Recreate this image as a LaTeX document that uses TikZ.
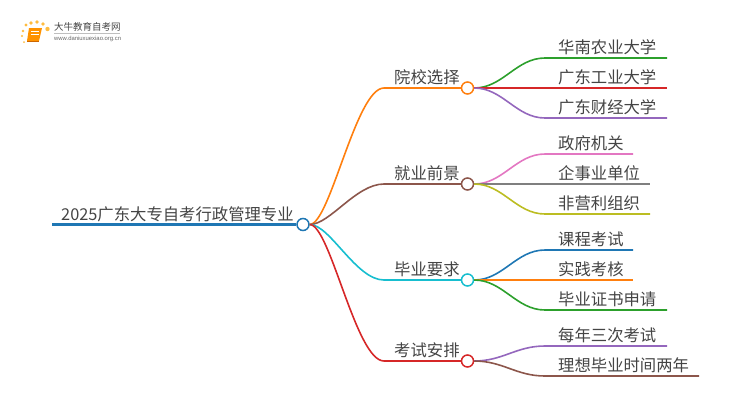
\documentclass[tikz,border=0pt]{standalone}
\usepackage{fontspec}
\setmainfont{Noto Sans CJK SC}
\setsansfont{Liberation Sans}
\definecolor{cblue}{HTML}{1F77B4}
\definecolor{corange}{HTML}{FF7F0E}
\definecolor{cgreen}{HTML}{2CA02C}
\definecolor{cred}{HTML}{D62728}
\definecolor{cpurple}{HTML}{9467BD}
\definecolor{cbrown}{HTML}{8C564B}
\definecolor{cpink}{HTML}{E377C2}
\definecolor{cgrey}{HTML}{7F7F7F}
\definecolor{colive}{HTML}{BCBD22}
\definecolor{ccyan}{HTML}{17BECF}
\definecolor{ctext}{HTML}{444444}
\tikzset{
    knob/.style={circle,draw=#1,fill=white,line width=1.5pt,minimum size=12pt,inner sep=0pt},
    lab/.style={anchor=base west,inner sep=0pt,text=ctext,font=\fontsize{16.35}{18}\selectfont},
    wire/.style={line width=1.6pt,color=#1},
}
\begin{document}
\begin{tikzpicture}[x=1pt,y=-1pt]
    \useasboundingbox (0,0) rectangle (750,410);
    % logo
    \foreach \px/\py/\pr in {26/25/1.6,31/23/1.8,37/22/1.9,43/24/1.9,47.5/29/2.2,23/31/1.4,22/36/1.2,24/42/1}
        \fill[orange!70!yellow,opacity=.75] (\px,\py) circle (\pr);
    \fill[orange!85!yellow] (29,28) -- (42,28) -- (39,41) -- (27,41) -- cycle;
    \draw[white,line width=.6pt] (31,31) -- (39,31) (30.5,34) -- (38.5,34);
    \draw[orange!80!black,line width=.8pt] (27,41.5) -- (39,41.5);
    \node[anchor=west,inner sep=0pt,text=ctext,font=\fontsize{9.5}{10}\selectfont] (logotext) at (54,27) {大牛教育自考网};
    \draw[black!25,line width=.5pt] (54,33) -- (120,33);
    \node[anchor=west,inner sep=0pt,text=black!60,font=\sffamily\fontsize{5.9}{6}\selectfont] (logourl) at (54,38.7) {www.daniuxuexiao.org.cn};
    % root
    \coordinate (rootend) at (52,224.5);
    \node[knob=cblue] (rootknob) at (303,224.5) {};
    \draw[line width=2.2pt,color=cblue] (rootend) -- (rootknob.west);
    \node[lab] (rootlab) at (61,220) {2025广东大专自考行政管理专业};
    % branches
    \foreach \nm/\by/\col/\txt in {a/88/corange/院校选择,b/184/cbrown/就业前景,c/280/ccyan/毕业要求,d/361/cred/考试安排}{
        \node[knob=\col] (\nm knob) at (467.5,\by) {};
        \coordinate (\nm knee) at (384,\by);
        \draw[wire=\col] (rootknob.east) .. controls (330,224.5) and (356,\by) .. (\nm knee) -- (\nm knob.west);
        \node[lab] (\nm lab) at (394,\by-4.5) {\txt};
    }
    % leaves
    \foreach \nm/\by/\ly/\lx/\col/\txt in {
        a/88/58/667/cgreen/华南农业大学,a/88/88/667/cred/广东工业大学,a/88/118/667/cpurple/广东财经大学,
        b/184/154/633/cpink/政府机关,b/184/184/650/cgrey/企事业单位,b/184/214/650/colive/非营利组织,
        c/280/250/633/cblue/课程考试,c/280/280/633/corange/实践考核,c/280/310/667/cgreen/毕业证书申请,
        d/361/346/667/cpurple/每年三次考试,d/361/376/699/cbrown/理想毕业时间两年}{
        \node[lab] (leaf\ly) at (558,\ly-4.5) {\txt};
        \coordinate (tip\ly) at (\lx,\ly);
        \draw[wire=\col] (\nm knob.east) .. controls (503,\by) and (516,\ly) .. (545,\ly) -- (tip\ly);
    }
\end{tikzpicture}
\end{document}
